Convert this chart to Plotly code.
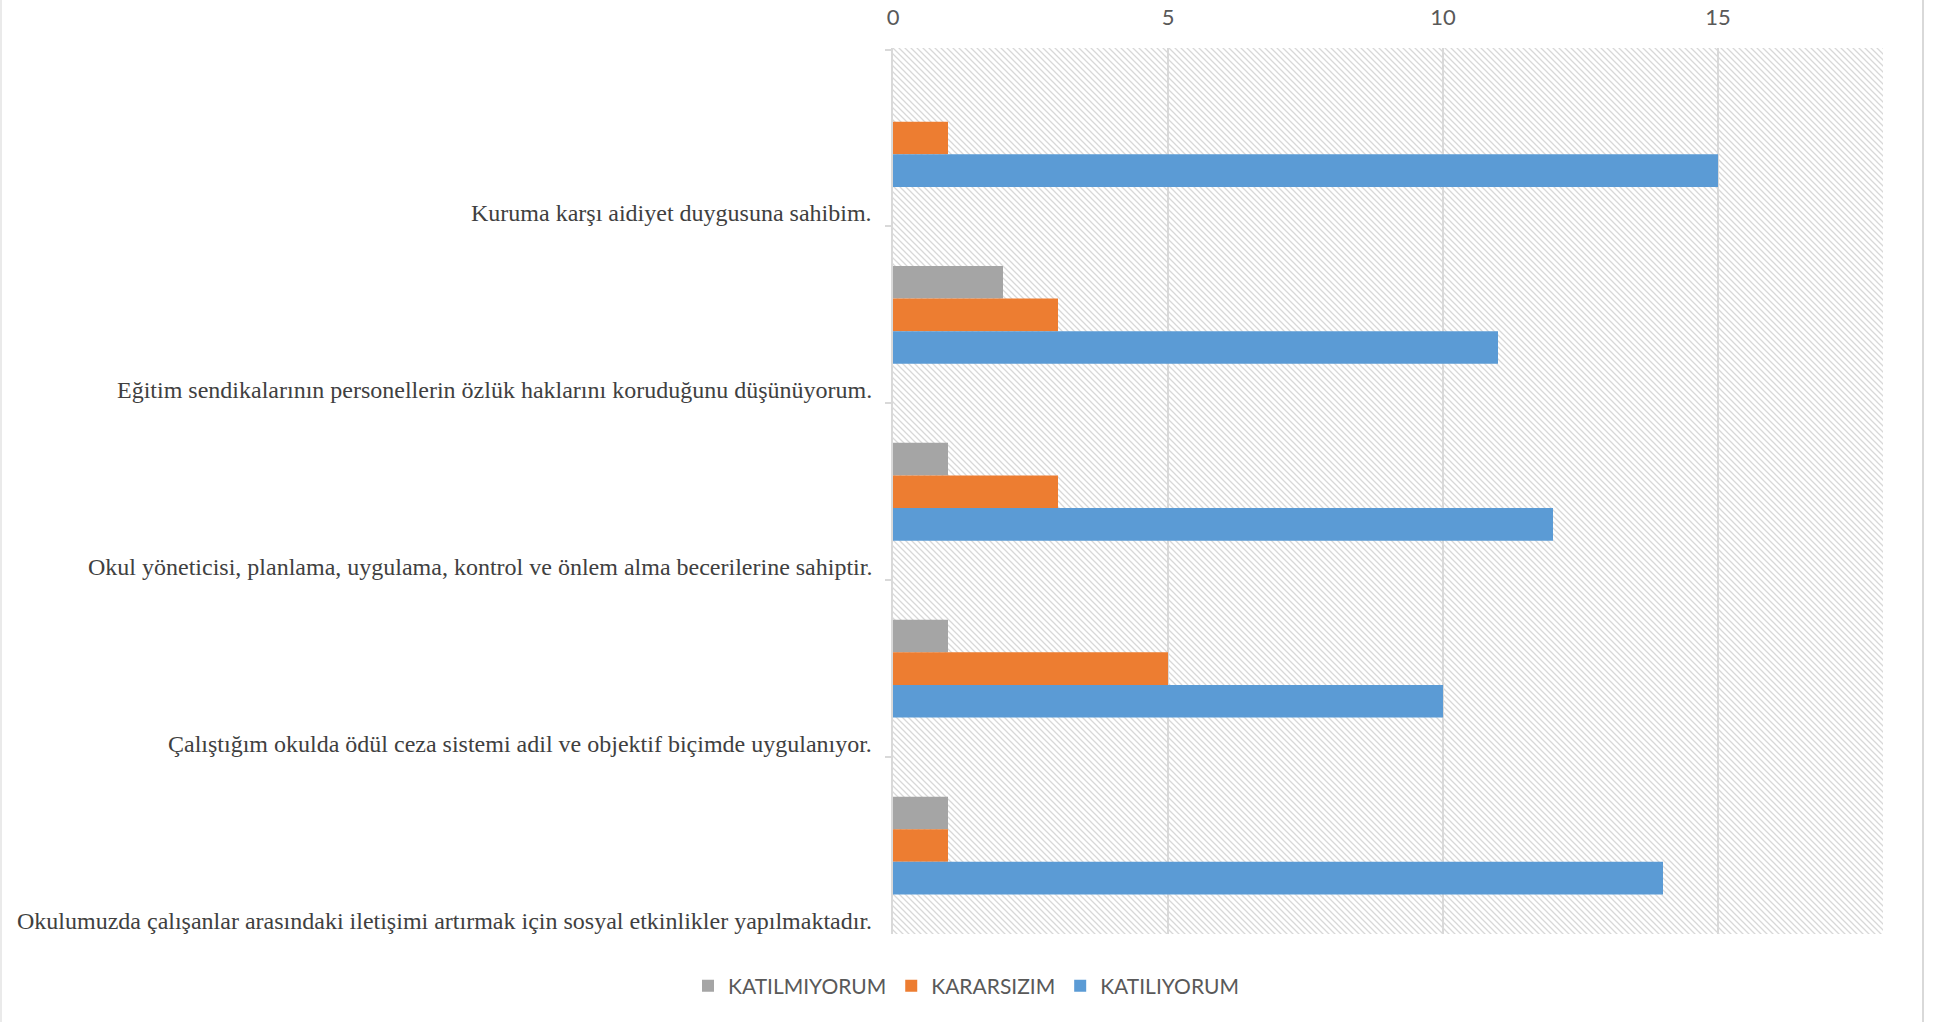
import base64
import plotly.graph_objects as go

categories = [
    "Kuruma karşı aidiyet duygusuna sahibim.",
    "Eğitim sendikalarının personellerin özlük haklarını koruduğunu düşünüyorum.",
    "Okul yöneticisi, planlama, uygulama, kontrol ve önlem alma becerilerine sahiptir.",
    "Çalıştığım okulda ödül ceza sistemi adil ve objektif biçimde uygulanıyor.",
    "Okulumuzda çalışanlar arasındaki iletişimi artırmak için sosyal etkinlikler yapılmaktadır.",
]
katilmiyorum = [0, 2, 1, 1, 1]
kararsizim = [1, 3, 3, 5, 1]
katiliyorum = [15, 11, 12, 10, 14]
series_names = ["KATILMIYORUM", "KARARSIZIM", "KATILIYORUM"]
x_ticks = [0, 5, 10, 15]

W, H = 1935, 1022
ML, MR, MT, MB = 893, 52, 48, 88
PW, PH = W - ML - MR, H - MT - MB

svg = (
    f'<svg xmlns="http://www.w3.org/2000/svg" width="{PW}" height="{PH}">'
    '<defs><pattern id="p" width="6" height="6" patternUnits="userSpaceOnUse">'
    '<path d="M-1,-1 L7,7 M-1,5 L1,7 M5,-1 L7,1" stroke="#d8d8d8" stroke-width="1.3"/>'
    '</pattern></defs>'
    f'<rect width="{PW}" height="{PH}" fill="#ffffff"/>'
    f'<rect width="{PW}" height="{PH}" fill="url(#p)"/></svg>'
)
svg_uri = "data:image/svg+xml;base64," + base64.b64encode(svg.encode()).decode()

colors = ["#A5A5A5", "#ED7D31", "#5B9BD5"]
fig = go.Figure()
for name, vals, col in zip(series_names, [katilmiyorum, kararsizim, katiliyorum], colors):
    fig.add_trace(go.Bar(
        name=name, y=categories, x=vals, orientation="h",
        marker=dict(color=col, line=dict(width=0)),
        hoverinfo="skip",
    ))

annotations = []
for c in categories:
    annotations.append(dict(
        xref="paper", yref="y", x=0, y=c, xanchor="right", yanchor="middle",
        xshift=-19, yshift=-75, text=c, showarrow=False,
        font=dict(family="Liberation Serif, Times New Roman, serif", size=24, color="#404040"),
    ))

fig.update_layout(
    width=W, height=H,
    margin=dict(l=ML, r=MR, t=MT, b=MB, autoexpand=False),
    paper_bgcolor="white",
    plot_bgcolor="rgba(0,0,0,0)",
    barmode="group", bargap=0.447, bargroupgap=0,
    showlegend=True,
    legend=dict(
        orientation="h", x=(966 - ML) / PW, xanchor="center",
        y=-52 / PH, yanchor="middle",
        font=dict(family="Lato, Open Sans, sans-serif", size=21, color="#595959"),
        traceorder="normal", itemwidth=30,
    ),
    xaxis=dict(
        side="top", range=[0, 18], tickvals=x_ticks, showgrid=True,
        gridcolor="#d9d9d9", gridwidth=1.5, zeroline=False, showline=False,
        ticks="", ticklabelstandoff=18,
        tickfont=dict(family="Lato, Open Sans, sans-serif", size=22, color="#595959"),
        fixedrange=True,
    ),
    yaxis=dict(
        categoryorder="array", categoryarray=categories, autorange="reversed",
        showticklabels=False, ticks="outside", tickson="boundaries", ticklen=6,
        tickcolor="#d9d9d9", tickwidth=1.5, showline=True, linecolor="#d9d9d9",
        linewidth=2, showgrid=False, zeroline=False, fixedrange=True,
    ),
    images=[dict(
        source=svg_uri, xref="paper", yref="paper", x=0, y=1, sizex=1, sizey=1,
        xanchor="left", yanchor="top", sizing="stretch", layer="below",
    )],
    annotations=annotations,
    shapes=[
        dict(type="line", xref="paper", yref="paper", x0=-(ML - 1) / PW, x1=-(ML - 1) / PW,
             y0=-MB / PH, y1=1 + MT / PH, line=dict(color="#e3e3e3", width=1.5)),
        dict(type="line", xref="paper", yref="paper", x0=(1923 - ML) / PW, x1=(1923 - ML) / PW,
             y0=-MB / PH, y1=1 + MT / PH, line=dict(color="#d9d9d9", width=2)),
    ],
)

fig.write_html("out.html", config={"displayModeBar": False},
               post_script="document.body.style.margin='0';")
